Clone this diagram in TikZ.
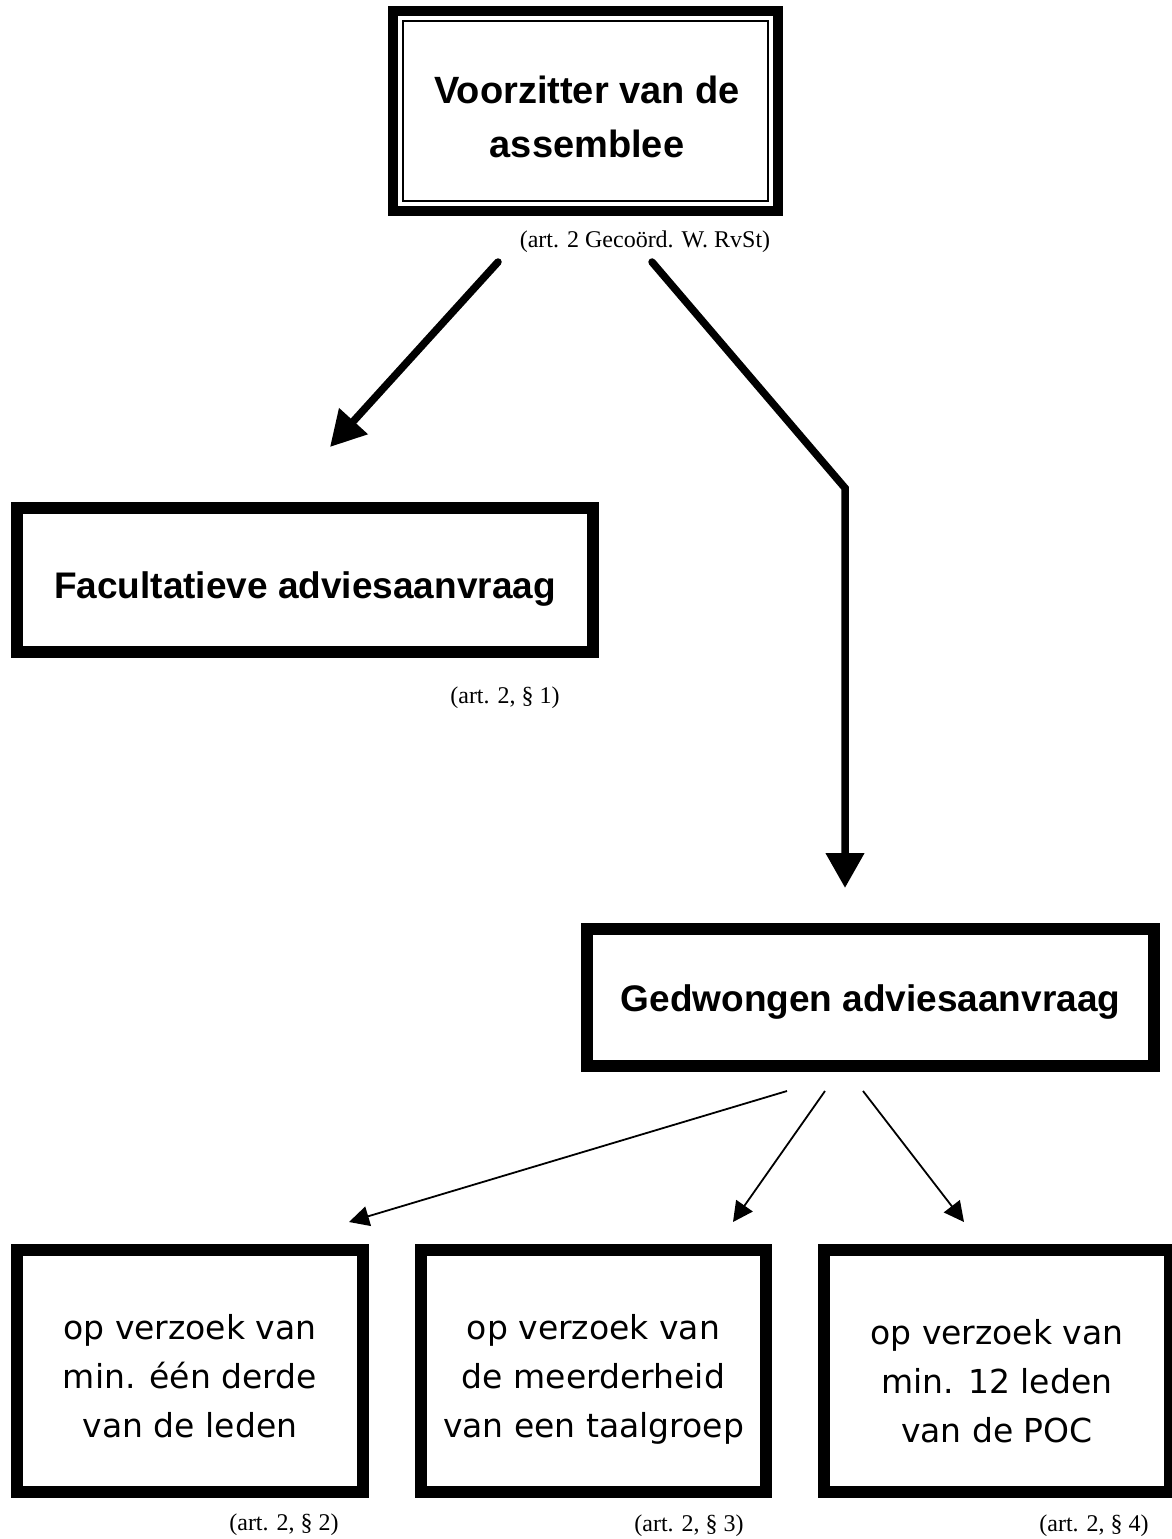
\documentclass[tikz,border=0pt]{standalone}
\usepackage{fontspec}
\usetikzlibrary{arrows.meta}
\newfontfamily\boxbold{Liberation Sans}
\newfontfamily\boxreg{DejaVu Sans}
\newfontfamily\refserif{Liberation Serif}
\begin{document}
\begin{tikzpicture}[x=1pt,y=-1pt,
  heavybox/.style={draw=black, line width=12pt, rectangle, inner sep=0pt},
  boldtxt/.style={font=\boxbold\bfseries\fontsize{38}{54}\selectfont, align=center, inner sep=0pt},
  regtxt/.style={font=\boxreg\fontsize{33}{49}\selectfont, align=center, inner sep=0pt},
  reftxt/.style={font=\refserif\fontsize{24}{28}\selectfont, inner sep=0pt},
  bigarrow/.style={line width=7.5pt, line cap=round, -{Triangle[length=35pt,width=37pt]}},
  thinarrow/.style={line width=1.8pt, -{Triangle[length=20pt,width=20pt]}}]
\useasboundingbox[fill=white] (0,0) rectangle (1171,1539);

% top box with double border
\node[draw=black, line width=10pt, rectangle, inner sep=0pt, minimum width=385pt, minimum height=200pt] (top) at (585.5,111) {};
\node[draw=black, line width=2.5pt, rectangle, inner sep=0pt, minimum width=365pt, minimum height=180pt] (topin) at (585.5,111) {};
\node[boldtxt] (toptxt) at (587,117) {Voorzitter van de\\assemblee};
\node[reftxt] (lab0) at (645,242) {(art. 2 Gecoörd. W. RvSt)};

% facultatieve
\node[heavybox, minimum width=576pt, minimum height=144pt, font=\boxbold\bfseries\fontsize{37}{54}\selectfont, text height=36pt, text depth=0pt] (fac) at (305,580) {Facultatieve adviesaanvraag};
\node[reftxt] (lab1) at (505,698) {(art. 2, § 1)};

% gedwongen
\node[heavybox, minimum width=567pt, minimum height=137pt, font=\boxbold\bfseries\fontsize{37}{54}\selectfont, text height=28pt, text depth=0pt] (ged) at (870.5,997.5) {Gedwongen adviesaanvraag};

% bottom boxes
\node[heavybox, minimum width=346pt, minimum height=242pt] (b1) at (190,1371) {};
\node[heavybox, minimum width=345pt, minimum height=242pt] (b2) at (593.5,1371) {};
\node[heavybox, minimum width=346pt, minimum height=242pt] (b3) at (997,1371) {};
\node[regtxt] (t1) at (190,1376) {op verzoek van\\min. één derde\\van de leden};
\node[regtxt] (t2) at (593.5,1379) {op verzoek van\\de meerderheid\\van een taalgroep};
\node[regtxt] (t3) at (997,1381) {op verzoek van\\min. 12 leden\\van de POC};
\node[reftxt] (lab2) at (284,1525) {(art. 2, § 2)};
\node[reftxt] (lab3) at (689,1526) {(art. 2, § 3)};
\node[reftxt] (lab4) at (1094,1526) {(art. 2, § 4)};

% connectors
\coordinate (a1s) at (498,262);
\coordinate (a1e) at (330,447);
\coordinate (a2s) at (652,262);
\coordinate (a2b) at (845,488);
\coordinate (a2e) at (845,888);
\draw[bigarrow] (a1s) -- (a1e);
\draw[bigarrow, line join=miter] (a2s) -- (a2b) -- (a2e);

\coordinate (c1s) at (787,1091);
\coordinate (c1e) at (349,1222);
\coordinate (c2s) at (825,1091);
\coordinate (c2e) at (733,1222);
\coordinate (c3s) at (863,1091);
\coordinate (c3e) at (964,1222);
\draw[thinarrow] (c1s) -- (c1e);
\draw[thinarrow] (c2s) -- (c2e);
\draw[thinarrow] (c3s) -- (c3e);
\end{tikzpicture}
\end{document}
